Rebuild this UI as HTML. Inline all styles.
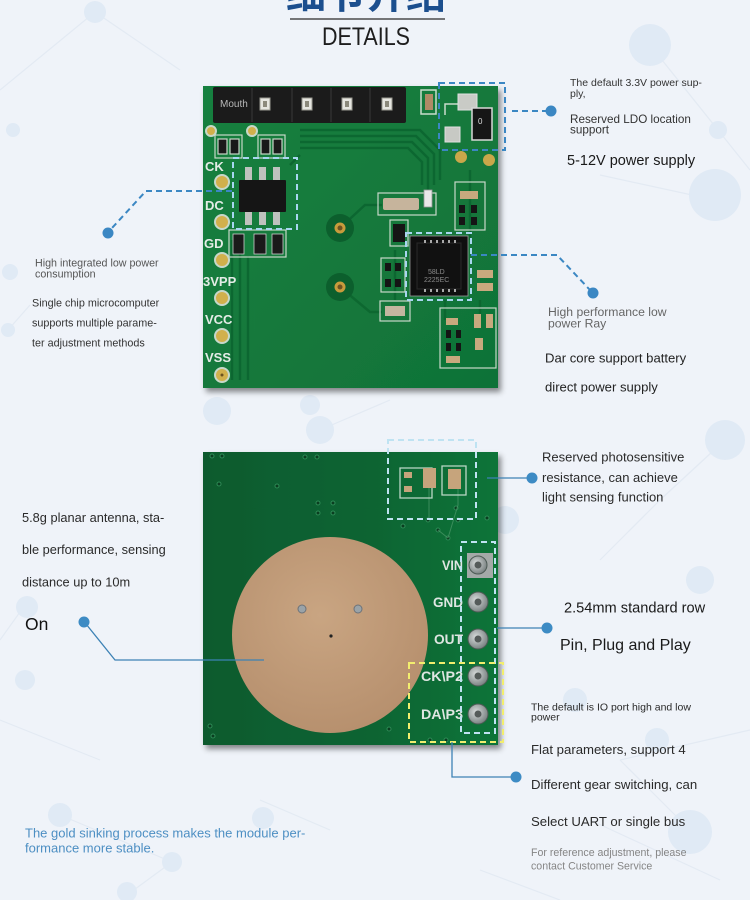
<!DOCTYPE html>
<html><head><meta charset="utf-8"><style>
html,body{margin:0;padding:0;background:#eff3f9;}
svg{display:block;}
text{font-family:"Liberation Sans","Noto Sans CJK SC",sans-serif;}
</style></head><body>
<svg width="750" height="900" viewBox="0 0 750 900" xmlns="http://www.w3.org/2000/svg">
<defs>
<filter id="sh" x="-10%" y="-10%" width="125%" height="125%"><feDropShadow dx="3" dy="4" stdDeviation="3" flood-color="#000" flood-opacity="0.45"/></filter>
<linearGradient id="g1" x1="0" y1="0" x2="1" y2="1"><stop offset="0" stop-color="#17803f"/><stop offset="1" stop-color="#107238"/></linearGradient>
<linearGradient id="g2" x1="0" y1="0" x2="1" y2="0"><stop offset="0" stop-color="#0a5a2e"/><stop offset="0.6" stop-color="#0c6533"/><stop offset="1" stop-color="#0f7439"/></linearGradient>
<radialGradient id="disk" cx="0.45" cy="0.4" r="0.7"><stop offset="0" stop-color="#c9a582"/><stop offset="1" stop-color="#b48d6b"/></radialGradient>
<radialGradient id="pin" cx="0.4" cy="0.4" r="0.6"><stop offset="0" stop-color="#d8dcdc"/><stop offset="1" stop-color="#7c8484"/></radialGradient>
</defs>

<!-- background network -->
<g stroke="#e3eaf3" stroke-width="1.2" fill="none">
<line x1="95" y1="12" x2="0" y2="90"/><line x1="95" y1="12" x2="180" y2="70"/>
<line x1="650" y1="45" x2="718" y2="130"/><line x1="718" y1="130" x2="750" y2="170"/>
<line x1="715" y1="200" x2="600" y2="175"/><line x1="30" y1="305" x2="8" y2="330"/>
<line x1="320" y1="430" x2="390" y2="400"/><line x1="725" y1="440" x2="660" y2="500"/>
<line x1="660" y1="500" x2="600" y2="560"/><line x1="25" y1="605" x2="0" y2="640"/>
<line x1="690" y1="830" x2="620" y2="760"/><line x1="620" y1="760" x2="750" y2="730"/>
<line x1="60" y1="815" x2="172" y2="862"/><line x1="172" y1="862" x2="127" y2="895"/>
<line x1="260" y1="800" x2="330" y2="830"/><line x1="0" y1="720" x2="100" y2="760"/>
<line x1="480" y1="870" x2="560" y2="900"/><line x1="590" y1="820" x2="720" y2="880"/>
</g>
<g fill="#e0eaf5">
<circle cx="95" cy="12" r="11"/><circle cx="650" cy="45" r="21"/><circle cx="13" cy="130" r="7"/>
<circle cx="718" cy="130" r="9"/><circle cx="715" cy="195" r="26"/><circle cx="10" cy="272" r="8"/>
<circle cx="8" cy="330" r="7"/><circle cx="217" cy="411" r="14"/><circle cx="320" cy="430" r="14"/>
<circle cx="725" cy="440" r="20"/><circle cx="505" cy="520" r="14"/><circle cx="700" cy="580" r="14"/>
<circle cx="27" cy="607" r="11"/><circle cx="25" cy="680" r="10"/><circle cx="657" cy="740" r="12"/>
<circle cx="690" cy="832" r="22"/><circle cx="60" cy="815" r="12"/><circle cx="263" cy="818" r="11"/>
<circle cx="172" cy="862" r="10"/><circle cx="127" cy="892" r="10"/><circle cx="575" cy="700" r="12"/>
<circle cx="310" cy="405" r="10"/>
</g>

<!-- title -->
<text x="366" y="8" font-size="40" font-weight="bold" fill="#1c4f8e" text-anchor="middle" font-family="'Liberation Sans','Noto Sans CJK SC',sans-serif">细节介绍</text>
<line x1="290" y1="19" x2="445" y2="19" stroke="#2a2a2a" stroke-width="1.2"/>
<text x="322" y="45" font-size="25" fill="#1e1e1e" textLength="88" lengthAdjust="spacingAndGlyphs">DETAILS</text>

<!-- ============ TOP BOARD ============ -->
<g filter="url(#sh)"><rect x="203" y="86" width="295" height="302" fill="url(#g1)"/></g>
<!-- traces -->
<g stroke="#0c6630" stroke-width="2.5" fill="none" opacity="0.9">
<path d="M300 130 L420 130 L440 150 L440 180"/><path d="M300 136 L416 136 L434 154 L434 185"/>
<path d="M300 142 L412 142 L428 158 L428 190"/><path d="M300 148 L408 148 L422 162 L422 185"/>
<path d="M300 155 L290 165"/><path d="M340 228 L365 205 L382 205"/>
<path d="M340 287 L370 312 L382 312"/><path d="M232 240 L232 380"/><path d="M240 240 L240 380"/>
<path d="M248 256 L248 380"/><path d="M470 170 L470 240"/><path d="M480 300 L480 320"/>
<path d="M445 300 L445 320"/><path d="M395 250 L395 300"/>
</g>
<!-- header -->
<rect x="213" y="87" width="193" height="36" fill="#1b1b1b" rx="2"/>
<g stroke="#2f2f2f" stroke-width="1.5"><line x1="252" y1="88" x2="252" y2="122"/><line x1="292" y1="88" x2="292" y2="122"/><line x1="331" y1="88" x2="331" y2="122"/><line x1="370" y1="88" x2="370" y2="122"/></g>
<text x="220" y="107" font-size="10" fill="#b9b9b9">Mouth</text>
<g fill="#e6e6e0" stroke="#9a9a90" stroke-width="1">
<rect x="260" y="98" width="10" height="12"/><rect x="302" y="98" width="10" height="12"/><rect x="342" y="98" width="10" height="12"/><rect x="382" y="98" width="10" height="12"/>
</g>
<g fill="#8c8a7c"><rect x="263" y="101" width="4" height="6"/><rect x="305" y="101" width="4" height="6"/><rect x="345" y="101" width="4" height="6"/><rect x="385" y="101" width="4" height="6"/></g>
<!-- top right components -->
<rect x="421" y="90" width="15" height="24" fill="none" stroke="#c8dccb" stroke-width="1.5"/>
<rect x="425" y="94" width="8" height="16" fill="#b08a66"/>
<path d="M445 115 L445 104 L458 104" fill="none" stroke="#c8dccb" stroke-width="1.5"/>
<rect x="458" y="94" width="19" height="16" fill="#c9cbc6" stroke="#e0e0e0"/>
<rect x="472" y="108" width="20" height="32" fill="#161616" stroke="#d8d8d8" stroke-width="1.5"/>
<text x="478" y="124" font-size="8" fill="#ddd">0</text>
<rect x="445" y="127" width="15" height="15" fill="#c7c9c4" stroke="#e0e0e0"/>
<circle cx="461" cy="157" r="6" fill="#c9a74a"/><circle cx="489" cy="160" r="6" fill="#c9a74a"/>
<!-- left pads -->
<g fill="#d1b04c" stroke="#c7d8c9" stroke-width="2">
<circle cx="211" cy="131" r="5"/><circle cx="252" cy="131" r="5"/>
<circle cx="222" cy="182" r="7"/><circle cx="222" cy="222" r="7"/><circle cx="222" cy="260" r="7"/><circle cx="222" cy="298" r="7"/><circle cx="222" cy="336" r="7"/><circle cx="222" cy="375" r="7"/>
</g>
<circle cx="222" cy="375" r="1.5" fill="#6b5220"/>
<g font-size="13" font-weight="bold" fill="#e4ece6">
<text x="205" y="171">CK</text><text x="205" y="210">DC</text><text x="204" y="248">GD</text><text x="203" y="286">3VPP</text><text x="205" y="324">VCC</text><text x="205" y="362">VSS</text>
</g>
<!-- small resistors top-left -->
<g stroke="#c7d8c9" stroke-width="1.2" fill="#1a1a1a">
<rect x="215" y="135" width="27" height="23" fill="none"/><rect x="258" y="135" width="27" height="23" fill="none"/>
<rect x="218" y="139" width="9" height="15"/><rect x="230" y="139" width="9" height="15"/>
<rect x="261" y="139" width="9" height="15"/><rect x="273" y="139" width="9" height="15"/>
</g>
<!-- SOT chip -->
<g fill="#bfc2be"><rect x="245" y="167" width="7" height="13"/><rect x="259" y="167" width="7" height="13"/><rect x="273" y="167" width="7" height="13"/>
<rect x="245" y="212" width="7" height="13"/><rect x="259" y="212" width="7" height="13"/><rect x="273" y="212" width="7" height="13"/></g>
<rect x="239" y="180" width="47" height="32" fill="#151515" rx="1"/>
<!-- resistors below chip -->
<g stroke="#c7d8c9" stroke-width="1.2"><rect x="229" y="230" width="57" height="27" fill="none"/></g>
<g fill="#1a1a1a" stroke="#ccc" stroke-width="0.8"><rect x="233" y="234" width="11" height="20"/><rect x="254" y="234" width="12" height="20"/><rect x="272" y="234" width="11" height="20"/></g>
<!-- holes -->
<g><circle cx="340" cy="228" r="14" fill="#0c5f2d"/><circle cx="340" cy="228" r="5.5" fill="#c89b3c"/><circle cx="340" cy="228" r="2.5" fill="#6e5220"/>
<circle cx="340" cy="287" r="14" fill="#0c5f2d"/><circle cx="340" cy="287" r="5.5" fill="#c89b3c"/><circle cx="340" cy="287" r="2.5" fill="#6e5220"/></g>
<!-- right components -->
<rect x="378" y="193" width="58" height="22" fill="none" stroke="#c7d8c9" stroke-width="1.2"/>
<rect x="383" y="198" width="36" height="12" fill="#c6b49c" rx="2"/>
<rect x="424" y="190" width="8" height="17" fill="#e8e8e8" stroke="#999" stroke-width="0.8"/>
<rect x="390" y="220" width="18" height="26" fill="none" stroke="#c7d8c9" stroke-width="1.2"/>
<rect x="393" y="224" width="12" height="18" fill="#151515"/>
<rect x="381" y="258" width="24" height="34" fill="none" stroke="#c7d8c9" stroke-width="1.2"/>
<g fill="#151515"><rect x="385" y="263" width="6" height="8"/><rect x="395" y="263" width="6" height="8"/><rect x="385" y="279" width="6" height="8"/><rect x="395" y="279" width="6" height="8"/></g>
<rect x="380" y="301" width="30" height="20" fill="none" stroke="#c7d8c9" stroke-width="1.2"/>
<rect x="385" y="306" width="20" height="10" fill="#c4b6a0"/>
<rect x="455" y="182" width="30" height="48" fill="none" stroke="#c7d8c9" stroke-width="1.2"/>
<g fill="#c8a97e"><rect x="460" y="191" width="18" height="8"/></g>
<g fill="#151515"><rect x="459" y="205" width="6" height="8"/><rect x="471" y="205" width="6" height="8"/><rect x="459" y="217" width="6" height="8"/><rect x="471" y="217" width="6" height="8"/></g>
<!-- QFN -->
<rect x="410" y="236" width="58" height="60" fill="#0f0f0f" stroke="#9a9a9a" stroke-width="0.8"/>
<rect x="417" y="243" width="44" height="46" fill="#111" stroke="#2a2a2a"/>
<text x="428" y="274" font-size="7" fill="#8a8a8a">58LD</text>
<text x="424" y="282" font-size="7" fill="#8a8a8a">2225EC</text>
<g fill="#aaa"><rect x="424" y="240" width="2" height="3"/><rect x="430" y="240" width="2" height="3"/><rect x="436" y="240" width="2" height="3"/><rect x="442" y="240" width="2" height="3"/><rect x="448" y="240" width="2" height="3"/><rect x="454" y="240" width="2" height="3"/>
<rect x="424" y="289" width="2" height="3"/><rect x="430" y="289" width="2" height="3"/><rect x="436" y="289" width="2" height="3"/><rect x="442" y="289" width="2" height="3"/><rect x="448" y="289" width="2" height="3"/><rect x="454" y="289" width="2" height="3"/></g>
<g fill="#c8a97e"><rect x="477" y="270" width="16" height="8"/><rect x="477" y="283" width="16" height="8"/></g>
<rect x="440" y="308" width="56" height="60" fill="none" stroke="#c7d8c9" stroke-width="1.2"/>
<g fill="#c8a97e"><rect x="446" y="318" width="12" height="7"/><rect x="474" y="314" width="7" height="14"/><rect x="486" y="314" width="7" height="14"/><rect x="475" y="338" width="8" height="12"/><rect x="446" y="356" width="14" height="7"/></g>
<g fill="#151515"><rect x="446" y="330" width="5" height="8"/><rect x="456" y="330" width="5" height="8"/><rect x="446" y="343" width="5" height="8"/><rect x="456" y="343" width="5" height="8"/></g>

<!-- top connectors -->
<g fill="none" stroke-width="2" stroke-dasharray="6 4">
<rect x="439" y="83" width="66" height="67" stroke="#3b87c3"/>
<rect x="233" y="158" width="64" height="71" stroke="#a8d6f0"/>
<rect x="406" y="233" width="65" height="67" stroke="#a8d6f0"/>
<line x1="512" y1="111" x2="546" y2="111" stroke="#3b87c3"/>
<path d="M232 191 L146 191 L112 228" stroke="#3b87c3"/>
<path d="M471 255 L557 255 L590 290" stroke="#3b87c3"/>
</g>
<g fill="#3b87c3"><circle cx="551" cy="111" r="5.5"/><circle cx="108" cy="233" r="5.5"/><circle cx="593" cy="293" r="5.5"/></g>

<!-- top texts -->
<g fill="#333">
<text x="570" y="86" font-size="10.5">The default 3.3V power sup-</text>
<text x="570" y="97" font-size="10.5">ply,</text>
<text x="570" y="123" font-size="11.7">Reserved LDO location</text>
<text x="570" y="133.5" font-size="11.7">support</text>
<text x="567" y="165" font-size="14.5" fill="#1a1a1a">5-12V power supply</text>
<text x="35" y="266.5" font-size="10.7" fill="#555">High integrated low power</text>
<text x="35" y="277.5" font-size="10.7" fill="#555">consumption</text>
<text x="32" y="306.5" font-size="10.8">Single chip microcomputer</text>
<text x="32" y="326.5" font-size="10.8">supports multiple parame-</text>
<text x="32" y="346.5" font-size="10.8">ter adjustment methods</text>
<text x="548" y="316" font-size="12.2" fill="#666">High performance low</text>
<text x="548" y="327.5" font-size="12.2" fill="#666">power Ray</text>
<text x="545" y="362.5" font-size="13.1" fill="#222">Dar core support battery</text>
<text x="545" y="391.5" font-size="13.1" fill="#222">direct power supply</text>
</g>

<!-- ============ BOTTOM BOARD ============ -->
<g filter="url(#sh)"><rect x="203" y="452" width="295" height="293" fill="url(#g2)"/></g>
<!-- vias -->
<g fill="#0a3e20" stroke="#2d8a55" stroke-width="1">
<circle cx="212" cy="456" r="2"/><circle cx="222" cy="456" r="2"/><circle cx="305" cy="457" r="2"/><circle cx="317" cy="457" r="2"/>
<circle cx="219" cy="484" r="2"/><circle cx="277" cy="486" r="2"/>
<circle cx="318" cy="503" r="2"/><circle cx="333" cy="503" r="2"/><circle cx="318" cy="513" r="2"/><circle cx="333" cy="513" r="2"/>
<circle cx="403" cy="526" r="2"/><circle cx="428" cy="520" r="2"/><circle cx="458" cy="520" r="2"/><circle cx="438" cy="530" r="2"/><circle cx="448" cy="538" r="2"/><circle cx="456" cy="508" r="2"/><circle cx="487" cy="518" r="2"/>
<circle cx="210" cy="726" r="2"/><circle cx="213" cy="736" r="2"/><circle cx="389" cy="729" r="2"/><circle cx="430" cy="740" r="2"/><circle cx="446" cy="740" r="2"/>
</g>
<g stroke="#4d9a6a" stroke-width="1" fill="none" opacity="0.7">
<path d="M429 487 L429 520"/><path d="M458 487 L458 505 L448 538"/><path d="M438 530 L448 538"/>
</g>
<!-- photo components -->
<path d="M400 468 L432 468 L432 498 L400 498 Z" fill="none" stroke="#bcd8c6" stroke-width="1.3"/>
<path d="M442 466 L466 466 L466 495 L442 495 Z" fill="none" stroke="#bcd8c6" stroke-width="1.3"/>
<g fill="#c6a47c"><rect x="404" y="472" width="8" height="6"/><rect x="404" y="486" width="8" height="6"/><rect x="423" y="468" width="13" height="20"/><rect x="448" y="469" width="13" height="20"/></g>
<!-- disk -->
<circle cx="330" cy="635" r="98" fill="url(#disk)"/>
<circle cx="302" cy="609" r="4" fill="#9aa3a8" stroke="#6d7278"/><circle cx="358" cy="609" r="4" fill="#9aa3a8" stroke="#6d7278"/>
<circle cx="331" cy="636" r="1.6" fill="#222"/>
<!-- pins -->
<rect x="467" y="553" width="26" height="25" fill="#a4a9a8"/>
<g fill="url(#pin)" stroke="#4d5a55" stroke-width="1">
<circle cx="478" cy="565" r="9"/><circle cx="478" cy="602" r="10"/><circle cx="478" cy="639" r="10"/><circle cx="478" cy="676" r="10"/><circle cx="478" cy="714" r="10"/>
</g>
<g fill="#555b5a"><circle cx="478" cy="565" r="3.5"/><circle cx="478" cy="602" r="3.5"/><circle cx="478" cy="639" r="3.5"/><circle cx="478" cy="676" r="3.5"/><circle cx="478" cy="714" r="3.5"/></g>
<g font-size="14" font-weight="bold" fill="#dfe6e2" text-anchor="end">
<text x="463" y="570" textLength="21" lengthAdjust="spacingAndGlyphs">VIN</text>
<text x="463" y="607" textLength="30" lengthAdjust="spacingAndGlyphs">GND</text>
<text x="463" y="644" textLength="29" lengthAdjust="spacingAndGlyphs">OUT</text>
<text x="463" y="681" textLength="42" lengthAdjust="spacingAndGlyphs">CK\P2</text>
<text x="463" y="719" textLength="42" lengthAdjust="spacingAndGlyphs">DA\P3</text>
</g>
<!-- bottom dashed boxes -->
<g fill="none" stroke-width="2" stroke-dasharray="6 4">
<rect x="388" y="440" width="88" height="79" stroke="#bfe3f2"/>
<rect x="461" y="542" width="34" height="191" stroke="#bfe3f2"/>
<rect x="409" y="663" width="94" height="79" stroke="#f2ee6e"/>
</g>
<!-- bottom connectors -->
<g fill="none" stroke="#3d82b5" stroke-width="1.3">
<line x1="487" y1="478" x2="528" y2="478"/>
<line x1="497" y1="628" x2="543" y2="628"/>
<path d="M452 742 L452 777 L512 777"/>
<path d="M264 660 L115 660 L86 624"/>
</g>
<g fill="#3d8bc4"><circle cx="532" cy="478" r="5.5"/><circle cx="547" cy="628" r="5.5"/><circle cx="516" cy="777" r="5.5"/><circle cx="84" cy="622" r="5.5"/></g>

<!-- bottom texts -->
<g fill="#2a2a2a">
<text x="542" y="461.5" font-size="13">Reserved photosensitive</text>
<text x="542" y="482" font-size="13">resistance, can achieve</text>
<text x="542" y="501.5" font-size="13">light sensing function</text>
<text x="564" y="612.5" font-size="14.6" fill="#1a1a1a">2.54mm standard row</text>
<text x="560" y="650" font-size="16" fill="#1a1a1a">Pin, Plug and Play</text>
<text x="531" y="710.5" font-size="10.5">The default is IO port high and low</text>
<text x="531" y="720.5" font-size="10.5">power</text>
<text x="531" y="754" font-size="13.2">Flat parameters, support 4</text>
<text x="531" y="789" font-size="13.2">Different gear switching, can</text>
<text x="531" y="826" font-size="13.2">Select UART or single bus</text>
<text x="531" y="856" font-size="10.6" fill="#858585">For reference adjustment, please</text>
<text x="531" y="869.5" font-size="10.6" fill="#858585">contact Customer Service</text>
<text x="22" y="522" font-size="12.8">5.8g planar antenna, sta-</text>
<text x="22" y="554" font-size="12.8">ble performance, sensing</text>
<text x="22" y="586.5" font-size="12.8">distance up to 10m</text>
<text x="25" y="630" font-size="17.5" fill="#111">On</text>
<text x="25" y="837.5" font-size="13" fill="#4d8fc3">The gold sinking process makes the module per-</text>
<text x="25" y="852.5" font-size="13" fill="#4d8fc3">formance more stable.</text>
</g>
</svg>
</body></html>
